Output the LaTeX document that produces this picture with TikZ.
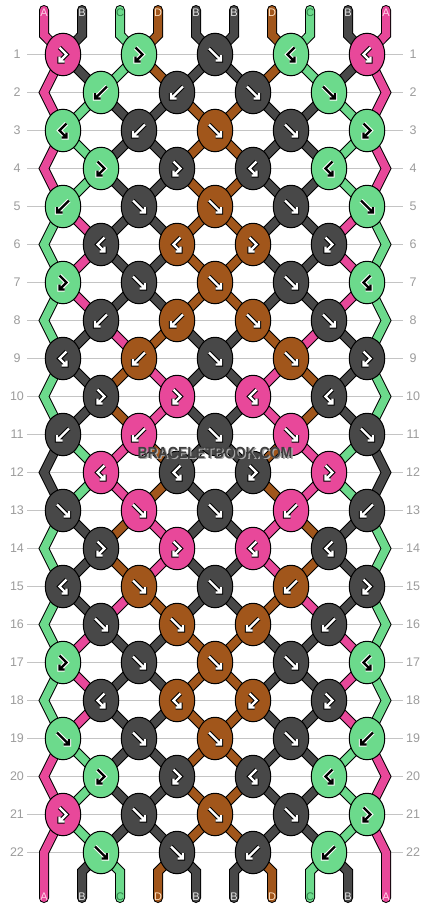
\documentclass[tikz,border=0pt]{standalone}
\usepackage{fontspec}
\setmainfont{Liberation Sans}
\usetikzlibrary{shapes.geometric}
\definecolor{sA}{HTML}{E8489A}
\definecolor{sB}{HTML}{484848}
\definecolor{sC}{HTML}{6CDA8C}
\definecolor{sD}{HTML}{A1561B}
\definecolor{lA}{HTML}{FFD2E8}
\definecolor{lB}{HTML}{E8E8E8}
\definecolor{lC}{HTML}{2F7D47}
\definecolor{lD}{HTML}{FFE2C4}
\definecolor{gridgray}{HTML}{C4C4C4}
\definecolor{numgray}{HTML}{9C9C9C}
\definecolor{wmdark}{HTML}{404040}
\definecolor{wmshadow}{HTML}{A8A8A8}
\pgfdeclarelayer{bg}
\pgfdeclarelayer{strands}
\pgfsetlayers{bg,strands,main}

\newcommand\setst[2]{\expandafter\def\csname st#1\endcsname{#2}}
\setst{0}{A,B,C,D,B,B,D,C,B,A}
\setst{1}{A,B,C,D,B,B,D,C,B,A}
\setst{2}{A,C,B,B,D,D,B,B,C,A}
\setst{3}{A,C,B,B,D,D,B,B,C,A}
\setst{4}{A,C,B,B,D,D,B,B,C,A}
\setst{5}{C,A,B,B,D,D,B,B,A,C}
\setst{6}{C,A,B,B,D,D,B,B,A,C}
\setst{7}{C,A,B,B,D,D,B,B,A,C}
\setst{8}{C,B,A,D,B,B,D,A,B,C}
\setst{9}{C,B,D,A,B,B,A,D,B,C}
\setst{10}{C,B,D,A,B,B,A,D,B,C}
\setst{11}{B,C,A,D,B,B,D,A,C,B}
\setst{12}{B,C,A,D,B,B,D,A,C,B}
\setst{13}{C,B,D,A,B,B,A,D,B,C}
\setst{14}{C,B,D,A,B,B,A,D,B,C}
\setst{15}{C,B,A,D,B,B,D,A,B,C}
\setst{16}{C,A,B,B,D,D,B,B,A,C}
\setst{17}{C,A,B,B,D,D,B,B,A,C}
\setst{18}{C,A,B,B,D,D,B,B,A,C}
\setst{19}{A,C,B,B,D,D,B,B,C,A}
\setst{20}{A,C,B,B,D,D,B,B,C,A}
\setst{21}{A,C,B,B,D,D,B,B,C,A}
\setst{22}{A,B,C,D,B,B,D,C,B,A}

% name of the knot (or edge point) holding position #2 in row #1
\newcommand\setnm[2]{%
  \ifodd#1\relax
    \ifodd#2\relax\pgfmathtruncatemacro\tmpq{#2-1}\else\edef\tmpq{#2}\fi
    \edef\nm{k-#1-\tmpq}%
  \else
    \ifnum#2=0\relax\edef\nm{e-#1-0}%
    \else\ifnum#2=9\relax\edef\nm{e-#1-9}%
    \else
      \ifodd#2\relax\edef\tmpq{#2}\else\pgfmathtruncatemacro\tmpq{#2-1}\fi
      \edef\nm{k-#1-\tmpq}%
    \fi\fi
  \fi}

\def\arrF{(-6,-6) -- (5,5) (0.5,6) -- (6,6) -- (6,0.5)}
\def\arrB{(6,-6) -- (-5,5) (-0.5,6) -- (-6,6) -- (-6,0.5)}
\def\arrFB{(-3.5,-7) -- (3.5,0) -- (-3,6.5) (1.5,7) -- (-3.5,7) -- (-3.5,2)}
\def\arrBF{(3.5,-7) -- (-3.5,0) -- (3,6.5) (-1.5,7) -- (3.5,7) -- (3.5,2)}

\newcommand\arrowicon[4]{%
  \if#4C\def\afg{black}\def\abg{white}\else\def\afg{white}\def\abg{black}\fi
  \expandafter\let\expandafter\curarr\csname arr#3\endcsname
  \begin{scope}[shift={(#1,#2)}]
    \draw[line width=4.4pt, color=\abg, line join=miter, miter limit=10] \curarr;
    \draw[line width=2.4pt, color=\afg, line join=miter, miter limit=10] \curarr;
  \end{scope}}

\newcommand\knotrow[2]{%
  \ifodd#1\relax\def\xo{63}\def\po{0}\else\def\xo{101}\def\po{1}\fi
  \pgfmathsetmacro\ky{54.5+38*(#1-1)}%
  \foreach \kc/\ty [count=\ki from 0] in {#2} {%
    \pgfmathsetmacro\kx{\xo+76*\ki}%
    \pgfmathtruncatemacro\kp{\po+2*\ki}%
    \node[knot, fill=s\kc] (k-#1-\kp) at (\kx,\ky) {};
    \arrowicon{\kx}{\ky}{\ty}{\kc}%
  }}

\newcommand\strandpass[2]{%
  \foreach \rr in {1,...,21} {%
    \edef\lst{\csname st\rr\endcsname}%
    \pgfmathtruncatemacro\rn{\rr+1}%
    \pgfmathtruncatemacro\rnn{\rr+2}%
    \foreach \kc [count=\pp from 0] in \lst {%
      \ifnum#2=0 \def\curcol{black}\else\edef\curcol{s\kc}\fi
      \ifnum\pp=0 \def\isedge{1}\else\ifnum\pp=9 \def\isedge{1}\else\def\isedge{0}\fi\fi
      \ifnum\isedge=0
        \setnm{\rr}{\pp}\let\nmA\nm
        \setnm{\rn}{\pp}\let\nmB\nm
        \draw[line width=#1, color=\curcol] (\nmA.center) -- (\nmB.center);
      \else
        \ifodd\rr\relax\ifnum\rr<20
          \setnm{\rr}{\pp}\let\nmA\nm
          \setnm{\rn}{\pp}\let\nmB\nm
          \setnm{\rnn}{\pp}\let\nmC\nm
          \draw[line width=#1, color=\curcol, line join=miter] (\nmA.center) -- (\nmB) -- (\nmC.center);
        \fi\fi
      \fi
    }}%
  \edef\lst{\csname st0\endcsname}%
  \foreach \kc [count=\pp from 0] in \lst {%
    \ifnum#2=0 \def\curcol{black}\else\edef\curcol{s\kc}\fi
    \setnm{1}{\pp}%
    \draw[line width=#1, color=\curcol, line cap=round, line join=miter] (t-\pp) -- (u-\pp) -- (\nm.center);
  }%
  \edef\lst{\csname st22\endcsname}%
  \foreach \kc [count=\pp from 0] in \lst {%
    \ifnum#2=0 \def\curcol{black}\else\edef\curcol{s\kc}\fi
    \ifnum\pp=0
      \draw[line width=#1, color=\curcol, line cap=round, line join=miter] (k-21-0.center) -- (e-22-0) -- (w-0);
    \else\ifnum\pp=9
      \draw[line width=#1, color=\curcol, line cap=round, line join=miter] (k-21-8.center) -- (e-22-9) -- (w-9);
    \else
      \setnm{22}{\pp}%
      \draw[line width=#1, color=\curcol, line cap=round, line join=miter] (\nm.center) -- (v-\pp) -- (w-\pp);
    \fi\fi
  }}

\tikzset{
  knot/.style={ellipse, draw=black, line width=1pt, minimum width=35.5pt, minimum height=42.5pt, inner sep=0pt, outer sep=0pt},
  gridline/.style={draw=gridgray, line width=1pt},
  numlbl/.style={text=numgray, font=\fontsize{12.5}{14}\selectfont, inner sep=0pt},
  strlbl/.style={font=\fontsize{11}{12}\selectfont, inner sep=0pt},
  wmtext/.style={font=\bfseries\fontsize{14}{14}\selectfont, inner sep=0pt}
}

\begin{document}
\begin{tikzpicture}[x=1pt,y=-1pt]
\useasboundingbox (0,0) rectangle (430,908);
\begin{pgfonlayer}{bg}
  \fill[white] (0,0) rectangle (430,908);
  \foreach \rr in {1,...,22} {%
    \pgfmathsetmacro\ky{54.5+38*(\rr-1)}%
    \draw[gridline] (27,\ky) -- (403,\ky);
    \node[numlbl] (nl-\rr) at (17,\ky) {\rr};
    \node[numlbl] (nr-\rr) at (413,\ky) {\rr};
  }
\end{pgfonlayer}

% edge bend points and string ends
\foreach \rr in {2,4,...,22} {%
  \pgfmathsetmacro\ky{54.5+38*(\rr-1)}%
  \coordinate (e-\rr-0) at (44,\ky);
  \coordinate (e-\rr-9) at (386,\ky);
}
\foreach \pp in {0,...,9} {%
  \pgfmathsetmacro\sx{44+38*\pp}%
  \coordinate (t-\pp) at (\sx,10);
  \coordinate (u-\pp) at (\sx,35);
  \coordinate (v-\pp) at (\sx,871.5);
  \coordinate (w-\pp) at (\sx,898);
  \coordinate (tl0-\pp) at (\sx,12.5);
  \coordinate (bl0-\pp) at (\sx,896.5);
}

% knots
\knotrow{1}{A/FB,C/FB,B/F,C/BF,A/BF}
\knotrow{2}{C/B,B/B,B/F,C/F}
\knotrow{3}{C/BF,B/B,D/F,B/F,C/FB}
\knotrow{4}{C/FB,B/FB,B/BF,C/BF}
\knotrow{5}{C/B,B/F,D/F,B/F,C/F}
\knotrow{6}{B/BF,D/BF,D/FB,B/FB}
\knotrow{7}{C/FB,B/F,D/F,B/F,C/BF}
\knotrow{8}{B/B,D/B,D/F,B/F}
\knotrow{9}{B/BF,D/B,B/F,D/F,B/FB}
\knotrow{10}{B/FB,A/FB,A/BF,B/BF}
\knotrow{11}{B/B,A/B,B/F,A/F,B/F}
\knotrow{12}{A/BF,B/BF,B/FB,A/FB}
\knotrow{13}{B/F,A/F,B/F,A/B,B/B}
\knotrow{14}{B/FB,A/FB,A/BF,B/BF}
\knotrow{15}{B/BF,D/F,B/F,D/B,B/FB}
\knotrow{16}{B/F,D/F,D/B,B/B}
\knotrow{17}{C/FB,B/F,D/F,B/F,C/BF}
\knotrow{18}{B/BF,D/BF,D/FB,B/FB}
\knotrow{19}{C/F,B/F,D/F,B/F,C/B}
\knotrow{20}{C/FB,B/FB,B/BF,C/BF}
\knotrow{21}{A/FB,B/F,D/F,B/F,C/FB}
\knotrow{22}{C/F,B/F,B/B,C/B}

% strands
\begin{pgfonlayer}{strands}
  \strandpass{10pt}{0}
  \strandpass{8pt}{1}
  \edef\lst{\csname st0\endcsname}%
  \foreach \kc [count=\pp from 0] in \lst {%
    \node[strlbl, text=l\kc] (tl-\pp) at (tl0-\pp) {\kc};
  }
  \edef\lst{\csname st22\endcsname}%
  \foreach \kc [count=\pp from 0] in \lst {%
    \node[strlbl, text=l\kc] (bl-\pp) at (bl0-\pp) {\kc};
  }
\end{pgfonlayer}

% watermark
\node[wmtext, text=wmshadow] (wms) at (216.3,454.3) {\scalebox{1}[1.15]{BRACELETBOOK.COM}};
\node[wmtext, text=wmdark] (wm) at (215,453) {\scalebox{1}[1.15]{BRACELETBOOK.COM}};
\end{tikzpicture}
\end{document}
